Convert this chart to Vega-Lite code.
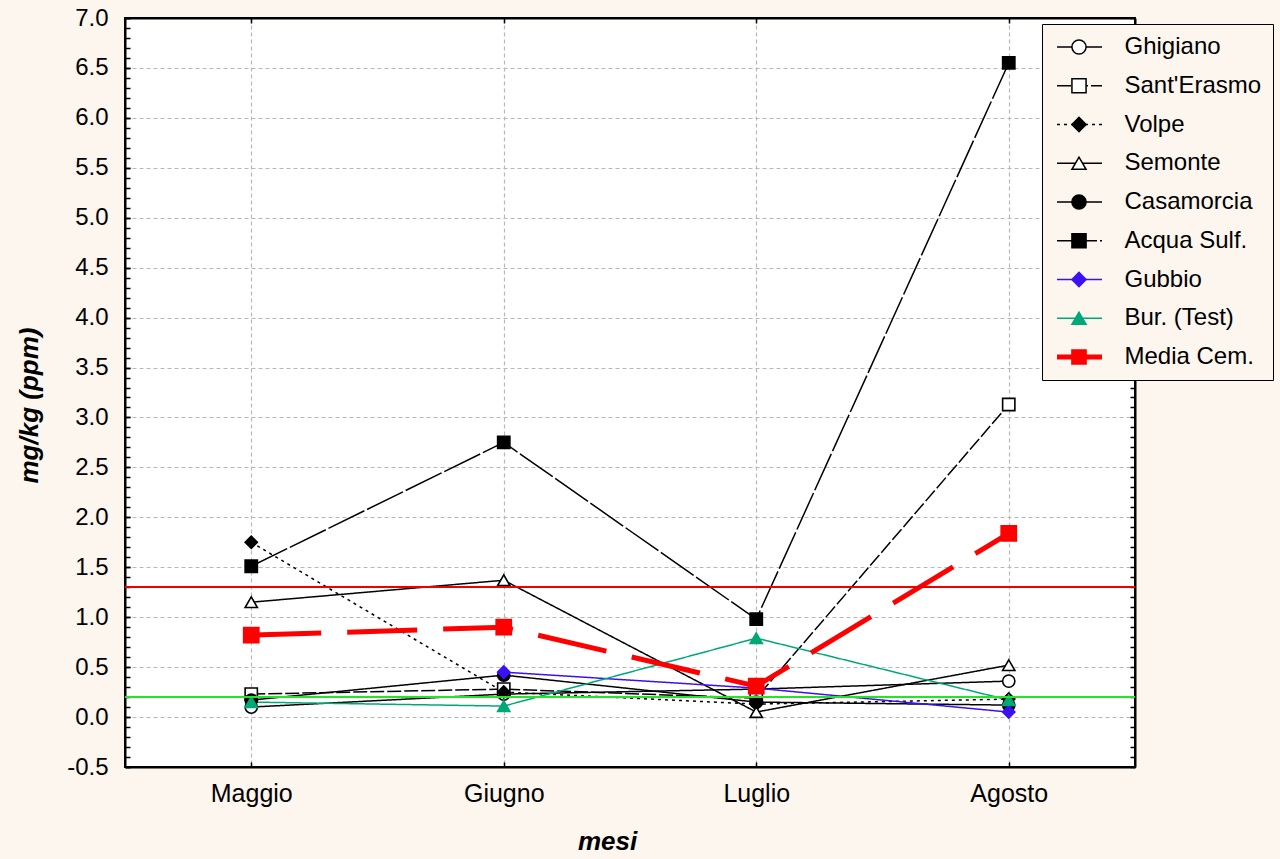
{
  "$schema": "https://vega.github.io/schema/vega-lite/v6.json",
  "width": 1010,
  "height": 749,
  "autosize": {"type": "none"},
  "padding": {"left": 125, "top": 18, "right": 145, "bottom": 92},
  "background": "#fdf6ef",
  "config": {
    "font": "Liberation Sans",
    "view": {"fill": "white", "stroke": "black", "strokeWidth": 2},
    "axis": {
      "domainColor": "black", "domainWidth": 2,
      "tickColor": "black", "tickWidth": 1.5, "tickSize": -5,
      "labelFont": "Liberation Sans", "labelFontSize": 24, "labelColor": "black",
      "gridColor": "#b8b8b8", "gridDash": [4, 3], "gridWidth": 1.2,
      "titleFont": "Liberation Sans", "titleFontSize": 26, "titleFontWeight": "bold",
      "titleFontStyle": "italic", "titleColor": "black"
    },
    "legend": {
      "orient": "none", "legendX": 917, "legendY": 6, "padding": 11,
      "rowPadding": 14.75, "labelFont": "Liberation Sans", "labelFontSize": 24,
      "labelColor": "black", "labelLimit": 300
    }
  },
  "data": {
    "values": [
      {"month": "Maggio", "site": "Ghigiano", "value": 0.10},
      {"month": "Giugno", "site": "Ghigiano", "value": 0.23},
      {"month": "Luglio", "site": "Ghigiano", "value": 0.28},
      {"month": "Agosto", "site": "Ghigiano", "value": 0.36},
      {"month": "Maggio", "site": "Sant'Erasmo", "value": 0.23},
      {"month": "Giugno", "site": "Sant'Erasmo", "value": 0.28},
      {"month": "Luglio", "site": "Sant'Erasmo", "value": 0.19},
      {"month": "Agosto", "site": "Sant'Erasmo", "value": 3.13},
      {"month": "Maggio", "site": "Volpe", "value": 1.75},
      {"month": "Giugno", "site": "Volpe", "value": 0.25},
      {"month": "Luglio", "site": "Volpe", "value": 0.13},
      {"month": "Agosto", "site": "Volpe", "value": 0.18},
      {"month": "Maggio", "site": "Semonte", "value": 1.15},
      {"month": "Giugno", "site": "Semonte", "value": 1.37},
      {"month": "Luglio", "site": "Semonte", "value": 0.05},
      {"month": "Agosto", "site": "Semonte", "value": 0.52},
      {"month": "Maggio", "site": "Casamorcia", "value": 0.17},
      {"month": "Giugno", "site": "Casamorcia", "value": 0.42},
      {"month": "Luglio", "site": "Casamorcia", "value": 0.15},
      {"month": "Agosto", "site": "Casamorcia", "value": 0.12},
      {"month": "Maggio", "site": "Acqua Sulf.", "value": 1.51},
      {"month": "Giugno", "site": "Acqua Sulf.", "value": 2.75},
      {"month": "Luglio", "site": "Acqua Sulf.", "value": 0.98},
      {"month": "Agosto", "site": "Acqua Sulf.", "value": 6.55},
      {"month": "Giugno", "site": "Gubbio", "value": 0.45},
      {"month": "Luglio", "site": "Gubbio", "value": 0.29},
      {"month": "Agosto", "site": "Gubbio", "value": 0.05},
      {"month": "Maggio", "site": "Bur. (Test)", "value": 0.15},
      {"month": "Giugno", "site": "Bur. (Test)", "value": 0.11},
      {"month": "Luglio", "site": "Bur. (Test)", "value": 0.79},
      {"month": "Agosto", "site": "Bur. (Test)", "value": 0.17},
      {"month": "Maggio", "site": "Media Cem.", "value": 0.82},
      {"month": "Giugno", "site": "Media Cem.", "value": 0.90},
      {"month": "Luglio", "site": "Media Cem.", "value": 0.31},
      {"month": "Agosto", "site": "Media Cem.", "value": 1.84}
    ]
  },
  "layer": [
    {
      "mark": {"type": "line"},
      "encoding": {
        "x": {
          "field": "month", "type": "ordinal",
          "sort": ["Maggio", "Giugno", "Luglio", "Agosto"],
          "scale": {"type": "point", "padding": 0.5},
          "axis": {"orient": "bottom", "title": "mesi", "labelAngle": 0, "labelFontSize": 25,
                   "labelPadding": 19, "titlePadding": 22, "titleX": 482, "grid": true}
        },
        "y": {
          "field": "value", "type": "quantitative",
          "scale": {"domain": [-0.5, 7.0], "nice": false, "zero": false},
          "axis": {"orient": "left", "title": "mg/kg (ppm)",
                   "labelExpr": "replace(format(datum.value, '.1f'), '\u2212', '-')",
                   "values": [-0.5, 0, 0.5, 1, 1.5, 2, 2.5, 3, 3.5, 4, 4.5, 5, 5.5, 6, 6.5, 7],
                   "labelPadding": 22, "titlePadding": 24, "titleY": 387, "grid": true}
        },
        "stroke": {
          "field": "site", "type": "nominal",
          "scale": {
            "domain": ["Ghigiano", "Sant'Erasmo", "Volpe", "Semonte", "Casamorcia", "Acqua Sulf.", "Gubbio", "Bur. (Test)", "Media Cem."],
            "range": ["black", "black", "black", "black", "black", "black", "#3b10f5", "#00a878", "#ff0000"]
          },
          "legend": {"title": null, "symbolType": "M-2.5,0H2.5", "symbolSize": 324, "symbolOffset": 14.5,
                     "labelOffset": 33, "fillColor": "#fdf6ef", "strokeColor": "black",
                     "encode": {"symbols": {"update": {"strokeWidth": {"signal": "datum.value === 'Media Cem.' ? 5 : 1.5"}}}}}
        },
        "strokeDash": {
          "field": "site", "type": "nominal",
          "scale": {
            "domain": ["Ghigiano", "Sant'Erasmo", "Volpe", "Semonte", "Casamorcia", "Acqua Sulf.", "Gubbio", "Bur. (Test)", "Media Cem."],
            "range": [[1, 0], [14, 3], [3, 4], [1, 0], [1, 0], [40, 3], [1, 0], [1, 0], [70, 26]]
          },
          "legend": {"title": null, "symbolType": "M-2.5,0H2.5", "symbolSize": 324, "symbolOffset": 14.5,
                     "labelOffset": 33, "fillColor": "#fdf6ef", "strokeColor": "black",
                     "encode": {"symbols": {"update": {"strokeWidth": {"signal": "datum.value === 'Media Cem.' ? 5 : 1.5"}}}}}
        },
        "strokeWidth": {"condition": {"test": "datum.site === 'Media Cem.'", "value": 5}, "value": 1.5}
      }
    },
    {
      "mark": {"type": "point", "filled": true, "opacity": 1, "strokeWidth": 1.6},
      "encoding": {
        "x": {
          "field": "month", "type": "ordinal",
          "sort": ["Maggio", "Giugno", "Luglio", "Agosto"],
          "axis": {"orient": "top", "labels": false, "title": null, "grid": false}
        },
        "y": {
          "field": "value", "type": "quantitative",
          "axis": {"orient": "right", "labels": false, "title": null, "grid": false,
                   "values": [-0.5, -0.4, -0.3, -0.2, -0.1, 0, 0.1, 0.2, 0.3, 0.4, 0.5, 0.6, 0.7, 0.8, 0.9, 1, 1.1, 1.2, 1.3, 1.4, 1.5, 1.6, 1.7, 1.8, 1.9, 2, 2.1, 2.2, 2.3, 2.4, 2.5, 2.6, 2.7, 2.8, 2.9, 3, 3.1, 3.2, 3.3, 3.4, 3.5, 3.6, 3.7, 3.8, 3.9, 4, 4.1, 4.2, 4.3, 4.4, 4.5, 4.6, 4.7, 4.8, 4.9, 5, 5.1, 5.2, 5.3, 5.4, 5.5, 5.6, 5.7, 5.8, 5.9, 6, 6.1, 6.2, 6.3, 6.4, 6.5, 6.6, 6.7, 6.8, 6.9, 7]}
        },
        "shape": {
          "field": "site", "type": "nominal",
          "scale": {
            "domain": ["Ghigiano", "Sant'Erasmo", "Volpe", "Semonte", "Casamorcia", "Acqua Sulf.", "Gubbio", "Bur. (Test)", "Media Cem."],
            "range": ["circle", "square", "diamond", "triangle-up", "circle", "square", "diamond", "triangle-up", "square"]
          },
          "legend": {"title": null, "symbolOffset": 14, "labelOffset": 33, "labelExpr": "' '", "symbolSize": 200,
                     "encode": {"symbols": {"update": {"size": {"signal": "datum.value === 'Media Cem.' ? 280 : 200"}}}}}
        },
        "fill": {
          "field": "site", "type": "nominal",
          "scale": {
            "domain": ["Ghigiano", "Sant'Erasmo", "Volpe", "Semonte", "Casamorcia", "Acqua Sulf.", "Gubbio", "Bur. (Test)", "Media Cem."],
            "range": ["white", "white", "black", "white", "black", "black", "#3b10f5", "#00a878", "#ff0000"]
          },
          "legend": {"title": null, "symbolOffset": 14, "labelOffset": 33, "labelExpr": "' '", "symbolSize": 200,
                     "encode": {"symbols": {"update": {"size": {"signal": "datum.value === 'Media Cem.' ? 280 : 200"}}}}}
        },
        "stroke": {
          "field": "site", "type": "nominal",
          "legend": {"title": null, "symbolOffset": 14, "labelOffset": 33, "labelExpr": "' '", "symbolSize": 200,
                     "encode": {"symbols": {"update": {"size": {"signal": "datum.value === 'Media Cem.' ? 280 : 200"}}}}}
        },
        "size": {"condition": {"test": "datum.site === 'Media Cem.'", "value": 230}, "value": 150}
      }
    },
    {
      "mark": {"type": "rule", "color": "#ee0000", "strokeWidth": 1.5},
      "encoding": {
        "y": {
          "datum": 1.3, "type": "quantitative",
          "axis": {"orient": "left", "labels": false, "title": null, "grid": false, "domain": false,
                   "values": [-0.5, -0.4, -0.3, -0.2, -0.1, 0, 0.1, 0.2, 0.3, 0.4, 0.5, 0.6, 0.7, 0.8, 0.9, 1, 1.1, 1.2, 1.3, 1.4, 1.5, 1.6, 1.7, 1.8, 1.9, 2, 2.1, 2.2, 2.3, 2.4, 2.5, 2.6, 2.7, 2.8, 2.9, 3, 3.1, 3.2, 3.3, 3.4, 3.5, 3.6, 3.7, 3.8, 3.9, 4, 4.1, 4.2, 4.3, 4.4, 4.5, 4.6, 4.7, 4.8, 4.9, 5, 5.1, 5.2, 5.3, 5.4, 5.5, 5.6, 5.7, 5.8, 5.9, 6, 6.1, 6.2, 6.3, 6.4, 6.5, 6.6, 6.7, 6.8, 6.9, 7]}
        }
      }
    },
    {
      "mark": {"type": "rule", "color": "#22e622", "strokeWidth": 1.5},
      "encoding": {
        "y": {"datum": 0.2, "type": "quantitative", "axis": null}
      }
    }
  ],
  "resolve": {
    "axis": {"x": "independent", "y": "independent"},
    "legend": {"stroke": "independent", "strokeDash": "independent", "shape": "independent", "fill": "independent"}
  }
}
